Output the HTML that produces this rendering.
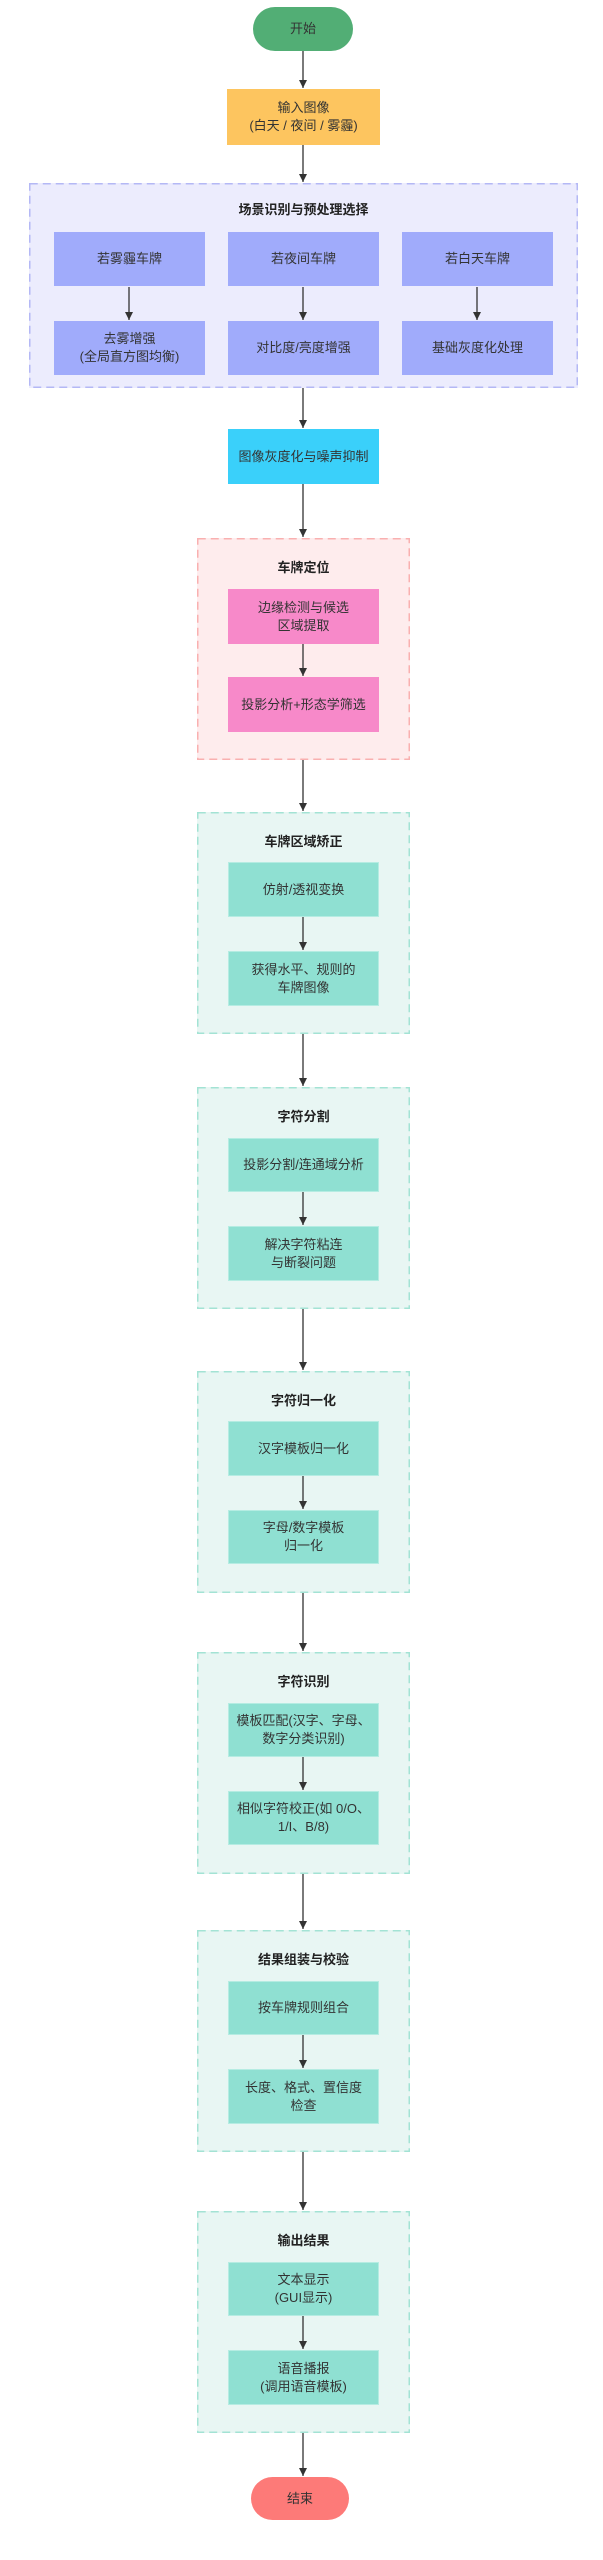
<!DOCTYPE html>
<html><head><meta charset="utf-8"><style>
body{margin:0;width:603px;height:2560px;background:#fff;position:relative;font-family:"Liberation Sans","Noto Sans CJK SC",sans-serif;color:#333}
div.b{position:absolute;box-sizing:border-box;display:flex;align-items:center;justify-content:center;text-align:center;font-size:13px;line-height:18px}
.g{position:absolute;box-sizing:border-box}
.t{position:absolute;left:0;right:0;text-align:center;font-weight:bold;font-size:13px;color:#222}
.teal{background:#e8f6f3}
.tb{background:#8fe0d2;border:1px solid #b5ece2}
svg{position:absolute;left:0;top:0}
</style></head><body>
<div class="b" style="left:253px;top:7px;width:100px;height:44px;border-radius:22px;background:#52ae75">开始</div>
<div class="b" style="left:227px;top:89px;width:153px;height:56px;background:#fdc55f">输入图像<br>(白天 / 夜间 / 雾霾)</div>

<div class="g" style="left:29px;top:183px;width:549px;height:205px;background:#ececfd"><div class="t" style="top:16px">场景识别与预处理选择</div></div>
<div class="b" style="left:54px;top:232px;width:151px;height:54px;background:#a0abfb">若雾霾车牌</div>
<div class="b" style="left:228px;top:232px;width:151px;height:54px;background:#a0abfb">若夜间车牌</div>
<div class="b" style="left:402px;top:232px;width:151px;height:54px;background:#a0abfb">若白天车牌</div>
<div class="b" style="left:54px;top:321px;width:151px;height:54px;background:#a0abfb">去雾增强<br>(全局直方图均衡)</div>
<div class="b" style="left:228px;top:321px;width:151px;height:54px;background:#a0abfb">对比度/亮度增强</div>
<div class="b" style="left:402px;top:321px;width:151px;height:54px;background:#a0abfb">基础灰度化处理</div>

<div class="b" style="left:228px;top:429px;width:151px;height:55px;background:#3ad0fa">图像灰度化与噪声抑制</div>

<div class="g" style="left:197px;top:538px;width:213px;height:222px;background:#feeced"><div class="t" style="top:19px">车牌定位</div></div>
<div class="b" style="left:228px;top:589px;width:151px;height:55px;background:#f789c9">边缘检测与候选<br>区域提取</div>
<div class="b" style="left:228px;top:677px;width:151px;height:55px;background:#f789c9">投影分析+形态学筛选</div>

<div class="g teal" style="left:197px;top:812px;width:213px;height:222px"><div class="t" style="top:19px">车牌区域矫正</div></div>
<div class="b tb" style="left:228px;top:862px;width:151px;height:55px">仿射/透视变换</div>
<div class="b tb" style="left:228px;top:951px;width:151px;height:55px">获得水平、规则的<br>车牌图像</div>

<div class="g teal" style="left:197px;top:1087px;width:213px;height:222px"><div class="t" style="top:19px">字符分割</div></div>
<div class="b tb" style="left:228px;top:1138px;width:151px;height:54px">投影分割/连通域分析</div>
<div class="b tb" style="left:228px;top:1226px;width:151px;height:55px">解决字符粘连<br>与断裂问题</div>

<div class="g teal" style="left:197px;top:1371px;width:213px;height:222px"><div class="t" style="top:19px">字符归一化</div></div>
<div class="b tb" style="left:228px;top:1421px;width:151px;height:55px">汉字模板归一化</div>
<div class="b tb" style="left:228px;top:1510px;width:151px;height:54px">字母/数字模板<br>归一化</div>

<div class="g teal" style="left:197px;top:1652px;width:213px;height:222px"><div class="t" style="top:19px">字符识别</div></div>
<div class="b tb" style="left:228px;top:1703px;width:151px;height:54px">模板匹配(汉字、字母、<br>数字分类识别)</div>
<div class="b tb" style="left:228px;top:1791px;width:151px;height:54px">相似字符校正(如 0/O、<br>1/I、B/8)</div>

<div class="g teal" style="left:197px;top:1930px;width:213px;height:222px"><div class="t" style="top:19px">结果组装与校验</div></div>
<div class="b tb" style="left:228px;top:1981px;width:151px;height:54px">按车牌规则组合</div>
<div class="b tb" style="left:228px;top:2069px;width:151px;height:55px">长度、格式、置信度<br>检查</div>

<div class="g teal" style="left:197px;top:2211px;width:213px;height:222px"><div class="t" style="top:19px">输出结果</div></div>
<div class="b tb" style="left:228px;top:2262px;width:151px;height:54px">文本显示<br>(GUI显示)</div>
<div class="b tb" style="left:228px;top:2350px;width:151px;height:55px">语音播报<br>(调用语音模板)</div>

<div class="b" style="left:251px;top:2477px;width:98px;height:43px;border-radius:22px;background:#fd7a78">结束</div>

<svg width="603" height="2560">
<defs><marker id="a" markerWidth="8" markerHeight="8" refX="8" refY="4" orient="auto" markerUnits="userSpaceOnUse"><path d="M0,0 L8,4 L0,8 z" fill="#333"/></marker></defs>
<g fill="none" stroke-width="1.5" stroke-dasharray="8 5">
<rect x="29.75" y="183.75" width="547.5" height="203.5" stroke="#b4b8f5"/>
<rect x="197.75" y="538.75" width="211.5" height="220.5" stroke="#f9b0b0"/>
<g stroke="#a3e3d4">
<rect x="197.75" y="812.75" width="211.5" height="220.5"/>
<rect x="197.75" y="1087.75" width="211.5" height="220.5"/>
<rect x="197.75" y="1371.75" width="211.5" height="220.5"/>
<rect x="197.75" y="1652.75" width="211.5" height="220.5"/>
<rect x="197.75" y="1930.75" width="211.5" height="220.5"/>
<rect x="197.75" y="2211.75" width="211.5" height="220.5"/>
</g></g>
<g stroke="#333" stroke-width="1.3" marker-end="url(#a)">
<line x1="303" y1="51" x2="303" y2="88"/>
<line x1="303" y1="145" x2="303" y2="182"/>
<line x1="129" y1="287" x2="129" y2="320"/>
<line x1="303" y1="287" x2="303" y2="320"/>
<line x1="477" y1="287" x2="477" y2="320"/>
<line x1="303" y1="388" x2="303" y2="428"/>
<line x1="303" y1="484" x2="303" y2="537"/>
<line x1="303" y1="644" x2="303" y2="676"/>
<line x1="303" y1="760" x2="303" y2="811"/>
<line x1="303" y1="917" x2="303" y2="950"/>
<line x1="303" y1="1034" x2="303" y2="1086"/>
<line x1="303" y1="1192" x2="303" y2="1225"/>
<line x1="303" y1="1309" x2="303" y2="1370"/>
<line x1="303" y1="1476" x2="303" y2="1509"/>
<line x1="303" y1="1593" x2="303" y2="1651"/>
<line x1="303" y1="1757" x2="303" y2="1790"/>
<line x1="303" y1="1874" x2="303" y2="1929"/>
<line x1="303" y1="2035" x2="303" y2="2068"/>
<line x1="303" y1="2152" x2="303" y2="2210"/>
<line x1="303" y1="2316" x2="303" y2="2349"/>
<line x1="303" y1="2433" x2="303" y2="2476"/>
</g></svg>
</body></html>
